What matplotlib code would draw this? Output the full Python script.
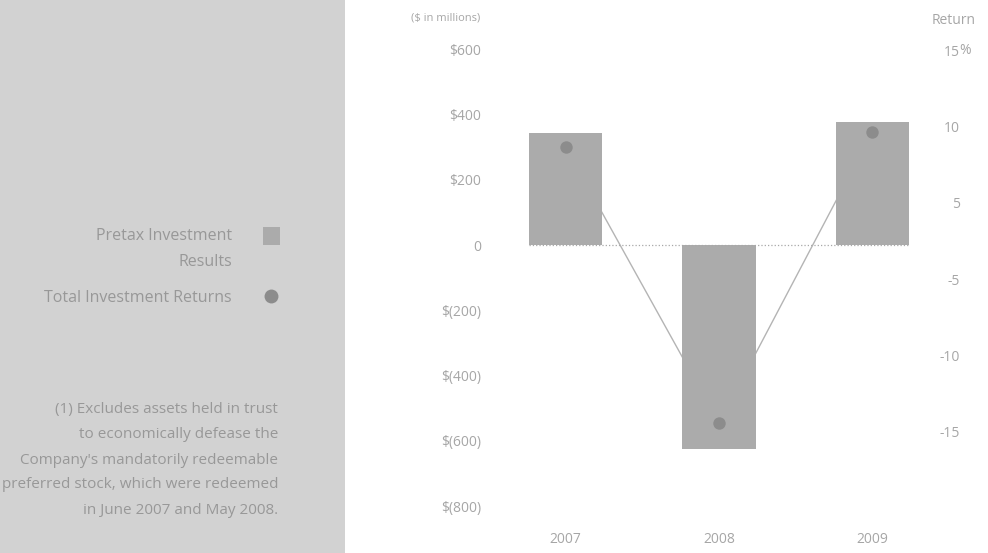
import matplotlib.pyplot as plt
from matplotlib.patches import Rectangle
from matplotlib.lines import Line2D

# Pretax investment results ($ millions) and total investment returns (%)
years = ['2007', '2008', '2009']
pretax_results = [343, -625, 377]
total_returns = [7.4, -14.3, 8.6]

dollar_ticks = [600, 400, 200, 0, -200, -400, -600, -800]
dollar_labels = ['$600', '$400', '$200', '0', '$(200)', '$(400)', '$(600)', '$(800)']
return_ticks = [15, 9, 3, -3, -9, -15]
return_labels = ['15', '10', '5', '-5', '-10', '-15']

footnote = ['(1) Excludes assets held in trust',
            'to economically defease the',
            "Company's mandatorily redeemable",
            'preferred stock, which were redeemed',
            'in June 2007 and May 2008.']

plt.rcParams['font.family'] = ['Open Sans', 'DejaVu Sans']
text_gray = '#a6a6a6'
panel_text = '#989898'
bar_gray = '#ababab'
dot_gray = '#8c8c8c'
line_gray = '#b4b4b4'

W, H = 988, 553
fig = plt.figure(figsize=(W / 100, H / 100), dpi=100)


def fx(px):
    return px / W


def fy(py):
    return 1 - py / H


# shaded side panel with legend and footnote
side = fig.add_axes([0, 0, fx(345), 1])
side.set_facecolor('#d2d2d2')
side.set_xticks([])
side.set_yticks([])
for s in side.spines.values():
    s.set_visible(False)

fig.text(fx(232), fy(236), 'Pretax Investment', ha='right', va='center',
         fontsize=11.5, color=panel_text)
fig.text(fx(232), fy(262), 'Results', ha='right', va='center',
         fontsize=11.5, color=panel_text)
fig.text(fx(232), fy(298), 'Total Investment Returns', ha='right', va='center',
         fontsize=11.5, color=panel_text)
fig.patches.append(Rectangle((fx(263), fy(245)), fx(17), 18 / H,
                             transform=fig.transFigure, facecolor=bar_gray,
                             edgecolor='none'))
fig.add_artist(Line2D([fx(271)], [fy(296)], marker='o', markersize=10,
                      color=dot_gray, markeredgewidth=0, linestyle='none',
                      transform=fig.transFigure))
for i, line in enumerate(footnote):
    fig.text(fx(278), fy(410 + 25 * i), line, ha='right', va='center',
             fontsize=11, color=panel_text)

# main chart
ax = fig.add_axes([fx(490), fy(522.5), fx(460), 489.5 / H])
ax2 = ax.twinx()
ax.set_ylim(-850, 650)
ax2.set_ylim(-22.11, 16.34)
x = list(range(len(years)))
bw = 0.476

ax.plot(x, total_returns, color=line_gray, lw=1, transform=ax2.transData, zorder=1)
ax.bar(x, pretax_results, width=bw, color=bar_gray, zorder=2)
ax.scatter(x, total_returns, s=80, color=dot_gray, transform=ax2.transData,
           zorder=3, linewidths=0)
ax.hlines(0, x[0] - bw / 2, x[-1] + bw / 2, colors='#a8a8a8', linestyles=':',
          lw=0.9, zorder=2.5)

ax.set_xlim(-0.492, 2.505)
ax.set_ylim(-850, 650)
ax.set_xticks(x)
ax.set_xticklabels(years)
ax.set_yticks(dollar_ticks)
ax.set_yticklabels(dollar_labels)
ax.tick_params(axis='both', length=0, labelsize=10, labelcolor=text_gray)
ax.tick_params(axis='y', pad=6.5)
ax.tick_params(axis='x', pad=7)

ax2.set_yticks(return_ticks)
ax2.set_yticklabels(return_labels)
ax2.tick_params(axis='y', length=0, labelsize=10, labelcolor=text_gray, pad=7.2)
for lab in ax2.get_yticklabels():
    lab.set_horizontalalignment('right')
ax2.annotate('%', xy=(1, 15), xycoords=('axes fraction', 'data'),
             xytext=(6.6, 0), textcoords='offset points', ha='left', va='center',
             fontsize=10, color=text_gray)

for a in (ax, ax2):
    for s in a.spines.values():
        s.set_visible(False)

fig.text(fx(446), fy(18), '($ in millions)', ha='center', va='center',
         fontsize=8, color=text_gray)
fig.text(fx(932), fy(20), 'Return', ha='left', va='center',
         fontsize=10, color=text_gray)

fig.savefig('out.png', dpi=100)
